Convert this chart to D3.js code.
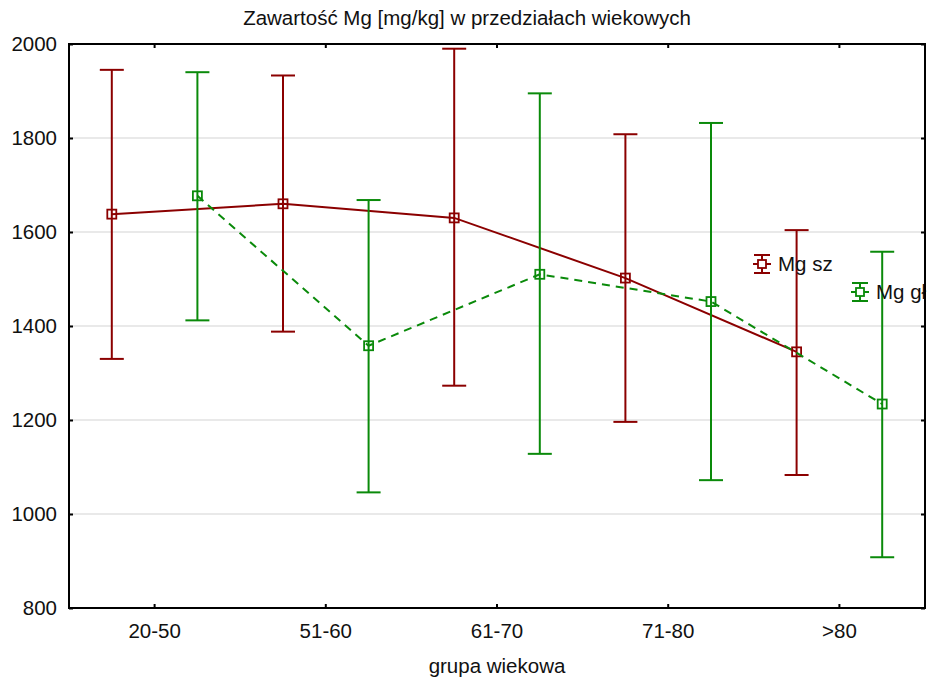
<!DOCTYPE html>
<html>
<head>
<meta charset="utf-8">
<script src="https://cdn.jsdelivr.net/npm/d3@7"></script>
<style>
  body { margin: 0; background: #fff; }
  svg { font-family: "Liberation Sans", Arial, sans-serif; }
</style>
</head>
<body>
<svg id="chart" width="933" height="686"></svg>
<script>
// data
var categories = ["20-50", "51-60", "61-70", "71-80", ">80"];
var sz_mean  = [1638, 1660, 1630, 1502, 1345];
var sz_upper = [1945, 1933, 1990, 1808, 1604];
var sz_lower = [1330, 1388, 1273, 1196, 1083];
var gl_mean  = [1677, 1358, 1510, 1452, 1234];
var gl_upper = [1940, 1668, 1895, 1832, 1558];
var gl_lower = [1412, 1046, 1128, 1072, 908];
var yTicks = [800, 1000, 1200, 1400, 1600, 1800, 2000];

var red = "#8b0000", green = "#0a8a0a";
var fontSize = "20.5px";

var svg = d3.select("#chart");
var plotLeft = 69, plotRight = 925, plotTop = 44, plotBottom = 608;

var x = d3.scaleBand().domain(categories).range([plotLeft, plotRight]);
var y = d3.scaleLinear().domain([800, 2000]).range([plotBottom, plotTop]);

// gridlines
svg.append("g").selectAll("line")
    .data(yTicks.slice(1, -1)).enter().append("line")
    .attr("x1", plotLeft).attr("x2", plotRight)
    .attr("y1", function (d) { return y(d); })
    .attr("y2", function (d) { return y(d); })
    .attr("stroke", "#e2e2e2").attr("stroke-width", 1.5);

function series(mean, upper, lower, color, frac, dash) {
    var xp = function (i) { return x(categories[i]) + x.bandwidth() * frac; };
    var g = svg.append("g");
    var line = d3.line()
        .x(function (d, i) { return xp(i); })
        .y(function (d) { return y(d); });
    g.append("path").datum(mean)
        .attr("d", line).attr("fill", "none")
        .attr("stroke", color).attr("stroke-width", 2)
        .attr("stroke-dasharray", dash);
    var eb = g.selectAll(".eb").data(mean).enter().append("g");
    eb.append("line")
        .attr("x1", function (d, i) { return xp(i); })
        .attr("x2", function (d, i) { return xp(i); })
        .attr("y1", function (d, i) { return y(upper[i]); })
        .attr("y2", function (d, i) { return y(lower[i]); })
        .attr("stroke", color).attr("stroke-width", 2);
    [upper, lower].forEach(function (arr) {
        eb.append("line")
            .attr("x1", function (d, i) { return xp(i) - 12; })
            .attr("x2", function (d, i) { return xp(i) + 12; })
            .attr("y1", function (d, i) { return y(arr[i]); })
            .attr("y2", function (d, i) { return y(arr[i]); })
            .attr("stroke", color).attr("stroke-width", 2);
    });
    eb.append("rect")
        .attr("x", function (d, i) { return xp(i) - 4.5; })
        .attr("y", function (d) { return y(d) - 4.5; })
        .attr("width", 9).attr("height", 9)
        .attr("fill", "none").attr("stroke", color).attr("stroke-width", 1.8);
}

series(sz_mean, sz_upper, sz_lower, red, 0.25, null);
series(gl_mean, gl_upper, gl_lower, green, 0.75, "8,6");

// legend
function legendItem(cx, cy, color, label) {
    var g = svg.append("g");
    g.append("line").attr("x1", cx).attr("x2", cx).attr("y1", cy - 9).attr("y2", cy + 9)
        .attr("stroke", color).attr("stroke-width", 2);
    g.append("line").attr("x1", cx - 8).attr("x2", cx + 8).attr("y1", cy - 9).attr("y2", cy - 9)
        .attr("stroke", color).attr("stroke-width", 2);
    g.append("line").attr("x1", cx - 8).attr("x2", cx + 8).attr("y1", cy + 9).attr("y2", cy + 9)
        .attr("stroke", color).attr("stroke-width", 2);
    g.append("line").attr("x1", cx - 9).attr("x2", cx + 9).attr("y1", cy).attr("y2", cy)
        .attr("stroke", color).attr("stroke-width", 2);
    g.append("rect").attr("x", cx - 4).attr("y", cy - 4).attr("width", 8).attr("height", 8)
        .attr("fill", "#fff").attr("stroke", color).attr("stroke-width", 1.8);
    g.append("text").attr("x", cx + 16).attr("y", cy + 7)
        .attr("font-size", fontSize).attr("fill", "#111").text(label);
}
legendItem(762, 264, red, "Mg sz");
legendItem(860, 292, green, "Mg gł");

// frame and ticks
svg.append("rect").attr("x", plotLeft).attr("y", plotTop)
    .attr("width", plotRight - plotLeft).attr("height", plotBottom - plotTop)
    .attr("fill", "none").attr("stroke", "#000").attr("stroke-width", 2);

var yAxis = svg.append("g").attr("transform", "translate(" + plotLeft + ",0)")
    .call(d3.axisLeft(y).tickValues(yTicks).tickSize(-4).tickPadding(12).tickFormat(d3.format("d")));
yAxis.select(".domain").remove();
yAxis.selectAll("text").attr("font-size", fontSize).attr("fill", "#111")
    .attr("font-family", "Liberation Sans, Arial, sans-serif");
yAxis.selectAll("line").attr("stroke-width", 2);

var yAxisR = svg.append("g").attr("transform", "translate(" + plotRight + ",0)")
    .call(d3.axisRight(y).tickValues(yTicks).tickSize(-4).tickFormat(""));
yAxisR.select(".domain").remove();
yAxisR.selectAll("line").attr("stroke-width", 2);

var xAxis = svg.append("g").attr("transform", "translate(0," + plotBottom + ")")
    .call(d3.axisBottom(x).tickSize(-4).tickPadding(15));
xAxis.select(".domain").remove();
xAxis.selectAll("text").attr("font-size", fontSize).attr("fill", "#111")
    .attr("font-family", "Liberation Sans, Arial, sans-serif");
xAxis.selectAll("line").attr("stroke-width", 2);

var xAxisT = svg.append("g").attr("transform", "translate(0," + plotTop + ")")
    .call(d3.axisTop(x).tickSize(-4).tickFormat(""));
xAxisT.select(".domain").remove();
xAxisT.selectAll("line").attr("stroke-width", 2);

// titles
svg.append("text").attr("x", 467).attr("y", 25).attr("text-anchor", "middle")
    .attr("font-size", fontSize).attr("fill", "#111")
    .text("Zawartość Mg [mg/kg] w przedziałach wiekowych");
svg.append("text").attr("x", 497).attr("y", 673).attr("text-anchor", "middle")
    .attr("font-size", fontSize).attr("fill", "#111")
    .text("grupa wiekowa");
</script>
</body>
</html>
